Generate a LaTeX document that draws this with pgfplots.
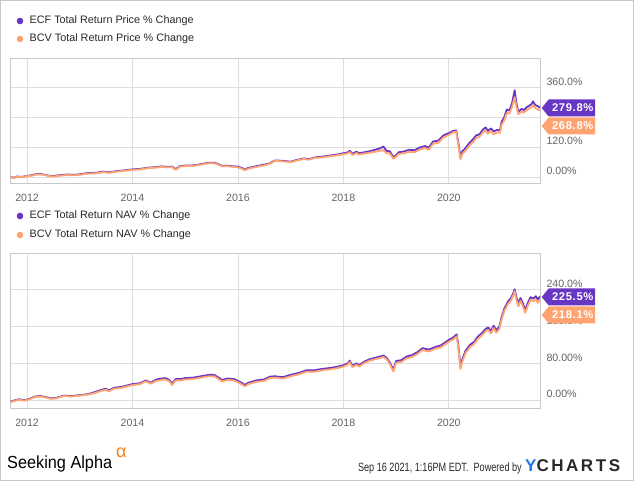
\documentclass[border=0pt]{standalone}
\usepackage{fontspec}
\setmainfont{Liberation Sans}
\newfontfamily\badgefont[LetterSpace=6]{Liberation Sans}
\newfontfamily\ychfont[LetterSpace=15]{Liberation Sans}
\usepackage{graphicx}
\usepackage{pgfplots}
\pgfplotsset{compat=1.18}

\definecolor{ecf}{RGB}{104,54,196}
\definecolor{bcv}{RGB}{255,163,112}
\definecolor{gridc}{RGB}{222,222,222}
\definecolor{framec}{RGB}{200,200,200}
\definecolor{ticktext}{RGB}{100,100,100}
\definecolor{legtext}{RGB}{40,40,40}
\definecolor{ychblue}{RGB}{30,120,230}
\definecolor{saorange}{RGB}{245,130,30}

% price, total return % change
\pgfplotstableread{
x y
2011.69 0
2011.75 -3
2011.80 2
2011.90 1
2012.00 4
2012.10 8
2012.20 13
2012.30 11
2012.40 6
2012.50 4
2012.60 7
2012.75 10
2012.90 9
2013.00 11
2013.15 16
2013.30 17
2013.45 22
2013.55 19
2013.70 24
2013.85 27
2014.00 31
2014.15 33
2014.30 38
2014.45 40
2014.55 43
2014.65 41
2014.75 42
2014.82 32
2014.90 44
2015.00 46
2015.15 47
2015.30 52
2015.45 58
2015.55 58
2015.62 53
2015.70 45
2015.78 46
2015.88 44
2016.00 42
2016.08 36
2016.13 30
2016.20 37
2016.35 44
2016.50 50
2016.60 55
2016.70 67
2016.80 66
2016.92 64
2017.00 62
2017.10 68
2017.25 75
2017.35 72
2017.45 79
2017.60 82
2017.75 87
2017.90 91
2018.00 96
2018.08 99
2018.12 106
2018.17 94
2018.25 102
2018.30 96
2018.40 100
2018.50 104
2018.60 110
2018.70 116
2018.76 123
2018.82 105
2018.88 104
2018.95 80
2019.00 88
2019.05 100
2019.15 103
2019.25 110
2019.35 108
2019.45 119
2019.55 125
2019.62 118
2019.70 143
2019.80 147
2019.90 168
2020.00 177
2020.08 186
2020.14 188
2020.18 140
2020.22 82
2020.26 105
2020.30 112
2020.38 135
2020.45 150
2020.52 168
2020.58 172
2020.65 192
2020.70 200
2020.74 186
2020.80 196
2020.85 184
2020.92 190
2020.97 188
2021.00 222
2021.05 240
2021.10 272
2021.15 268
2021.20 298
2021.25 350
2021.28 300
2021.32 262
2021.38 275
2021.42 270
2021.48 282
2021.52 287
2021.57 294
2021.60 305
2021.64 290
2021.68 287
2021.73 279.8
}\ecfprice

\pgfplotstableread{
x y
2011.69 0
2011.75 -4
2011.80 1
2011.90 0
2012.00 3
2012.10 6
2012.20 11
2012.30 10
2012.40 5
2012.50 2
2012.60 5
2012.75 8
2012.90 7
2013.00 9
2013.15 14
2013.30 15
2013.45 20
2013.55 17
2013.70 22
2013.85 25
2014.00 29
2014.15 31
2014.30 36
2014.45 38
2014.55 41
2014.65 39
2014.75 40
2014.82 29
2014.90 42
2015.00 44
2015.15 45
2015.30 50
2015.45 56
2015.55 56
2015.62 51
2015.70 43
2015.78 44
2015.88 42
2016.00 39
2016.08 33
2016.13 27
2016.20 34
2016.35 41
2016.50 47
2016.60 53
2016.70 65
2016.80 64
2016.92 62
2017.00 60
2017.10 66
2017.25 73
2017.35 70
2017.45 77
2017.60 79
2017.75 84
2017.90 88
2018.00 92
2018.08 95
2018.12 101
2018.17 89
2018.25 97
2018.30 91
2018.40 95
2018.50 98
2018.60 102
2018.70 106
2018.76 108
2018.82 96
2018.88 95
2018.95 74
2019.00 82
2019.05 93
2019.15 96
2019.25 102
2019.35 100
2019.45 111
2019.55 117
2019.62 110
2019.70 134
2019.80 138
2019.90 160
2020.00 170
2020.08 180
2020.14 183
2020.18 130
2020.22 72
2020.26 95
2020.30 102
2020.38 124
2020.45 139
2020.52 157
2020.58 162
2020.65 181
2020.70 188
2020.74 175
2020.80 184
2020.85 173
2020.92 180
2020.97 178
2021.00 210
2021.05 228
2021.10 258
2021.15 256
2021.20 284
2021.25 322
2021.28 286
2021.32 254
2021.38 264
2021.42 260
2021.48 270
2021.52 276
2021.57 282
2021.60 290
2021.64 278
2021.68 274
2021.73 268.8
}\bcvprice

% NAV, total return % change
\pgfplotstableread{
x y
2011.69 -3
2011.75 -1
2011.85 2
2011.95 0
2012.05 3
2012.15 8
2012.25 9
2012.35 7
2012.45 4
2012.55 5
2012.70 10
2012.85 9
2013.00 11
2013.15 13
2013.30 18
2013.40 22
2013.50 25
2013.55 21
2013.65 27
2013.80 29
2014.00 35
2014.15 37
2014.25 43
2014.35 38
2014.45 45
2014.55 47
2014.62 48
2014.70 44
2014.75 36
2014.82 46
2014.92 46
2015.00 48
2015.15 49
2015.30 52
2015.45 55
2015.55 55
2015.62 50
2015.70 44
2015.80 47
2015.92 46
2016.00 42
2016.08 37
2016.13 33
2016.20 38
2016.35 43
2016.50 45
2016.60 51
2016.70 52
2016.85 50
2017.00 55
2017.15 59
2017.30 65
2017.45 65
2017.60 68
2017.75 70
2017.90 73
2018.00 76
2018.08 80
2018.12 86
2018.17 75
2018.25 80
2018.30 76
2018.40 84
2018.50 89
2018.60 92
2018.70 95
2018.76 97
2018.82 92
2018.88 82
2018.95 66
2019.00 85
2019.10 87
2019.20 95
2019.30 98
2019.40 104
2019.50 113
2019.62 110
2019.75 116
2019.85 119
2020.00 131
2020.08 136
2020.15 143
2020.18 120
2020.22 73
2020.26 90
2020.32 108
2020.40 120
2020.48 127
2020.55 138
2020.62 145
2020.70 155
2020.75 158
2020.80 150
2020.85 162
2020.90 152
2020.96 160
2021.00 180
2021.05 198
2021.12 214
2021.18 222
2021.22 232
2021.25 241
2021.28 225
2021.32 210
2021.36 222
2021.40 212
2021.45 196
2021.50 212
2021.55 224
2021.60 221
2021.65 226
2021.69 219
2021.73 225.5
}\ecfnav

\pgfplotstableread{
x y
2011.69 -4
2011.75 -2
2011.85 1
2011.95 -1
2012.05 2
2012.15 7
2012.25 8
2012.35 6
2012.45 3
2012.55 4
2012.70 9
2012.85 8
2013.00 10
2013.15 12
2013.30 16
2013.40 20
2013.50 23
2013.55 19
2013.65 25
2013.80 27
2014.00 33
2014.15 35
2014.25 41
2014.35 36
2014.45 42
2014.55 44
2014.62 45
2014.70 41
2014.75 33
2014.82 43
2014.92 43
2015.00 45
2015.15 46
2015.30 49
2015.45 52
2015.55 52
2015.62 47
2015.70 41
2015.80 44
2015.92 43
2016.00 39
2016.08 34
2016.13 30
2016.20 35
2016.35 40
2016.50 42
2016.60 48
2016.70 49
2016.85 47
2017.00 52
2017.15 56
2017.30 62
2017.45 62
2017.60 65
2017.75 67
2017.90 70
2018.00 73
2018.08 77
2018.12 83
2018.17 72
2018.25 77
2018.30 73
2018.40 81
2018.50 86
2018.60 89
2018.70 92
2018.76 94
2018.82 89
2018.88 79
2018.95 62
2019.00 81
2019.10 83
2019.20 91
2019.30 94
2019.40 100
2019.50 109
2019.62 106
2019.75 112
2019.85 115
2020.00 127
2020.08 132
2020.15 139
2020.18 115
2020.22 68
2020.26 85
2020.32 103
2020.40 115
2020.48 122
2020.55 133
2020.62 140
2020.70 150
2020.75 153
2020.80 145
2020.85 157
2020.90 147
2020.96 155
2021.00 175
2021.05 193
2021.12 209
2021.18 217
2021.22 227
2021.25 237
2021.28 219
2021.32 204
2021.36 216
2021.40 206
2021.45 190
2021.50 206
2021.55 218
2021.60 215
2021.65 219
2021.69 212
2021.73 218.1
}\bcvnav

\pgfplotsset{
  ychart/.style={
    scale only axis,
    width=529.3pt,
    xmin=2011.69, xmax=2021.73,
    xtick={2012,2014,2016,2018,2020},
    xticklabels={2012,2014,2016,2018,2020},
    xmajorgrids, ymajorgrids,
    major grid style={gridc, line width=0.8pt},
    axis line style={framec, line width=0.8pt},
    major tick style={draw=none},
    yticklabel pos=right,
    tick label style={font=\fontsize{10.6}{12}\selectfont, text=ticktext},
    xticklabel style={yshift=-8pt},
    yticklabel style={anchor=west, xshift=3pt, yshift=6pt},
    line join=round,
  },
}

\newcommand{\badge}[4]{%
  \fill[#3] (#1pt,#2pt) -- ++(7pt,8.5pt) -- ++(46.5pt,0pt) -- ++(0pt,-17pt) -- ++(-46.5pt,0pt) -- cycle;
  \node[text=white, inner sep=0pt, font=\badgefont\bfseries\fontsize{11.2}{12}\selectfont] at (#1pt+31pt,#2pt) {#4};
}

\begin{document}
\begin{tikzpicture}
\path[use as bounding box, fill=white] (0,0) rectangle (635pt,481pt);
\draw[framec, line width=0.8pt] (0.5pt,0.5pt) rectangle (633pt,480.5pt);

% legends
\begin{scope}[every node/.style={anchor=west, inner sep=0pt, text=legtext, font=\fontsize{10.8}{12}\selectfont}]
\fill[ecf] (20pt,460pt) circle (3.3pt);
\node at (29.5pt,460pt) {ECF Total Return Price \% Change};
\fill[bcv] (20pt,442pt) circle (3.3pt);
\node at (29.5pt,442pt) {BCV Total Return Price \% Change};
\fill[ecf] (20pt,265pt) circle (3.3pt);
\node at (29.5pt,265pt) {ECF Total Return NAV \% Change};
\fill[bcv] (20pt,246pt) circle (3.3pt);
\node at (29.5pt,246pt) {BCV Total Return NAV \% Change};
\end{scope}

\begin{axis}[ychart,
  at={(10.7pt,298pt)}, anchor=south west,
  height=125pt,
  ymin=-24, ymax=480,
  ytick={0,120,240,360},
  yticklabels={0.00\%,120.0\%,240.0\%,360.0\%},
]
\addplot[ecf, line width=1.8pt] table[x=x,y=y] {\ecfprice};
\addplot[bcv, line width=1.8pt] table[x=x,y=y] {\bcvprice};
\end{axis}

\begin{axis}[ychart,
  at={(10.7pt,73pt)}, anchor=south west,
  height=155pt,
  ymin=-17, ymax=320,
  ytick={0,80,160,240},
  yticklabels={0.00\%,80.00\%,160.0\%,240.0\%},
]
\addplot[ecf, line width=1.8pt] table[x=x,y=y] {\ecfnav};
\addplot[bcv, line width=1.8pt] table[x=x,y=y] {\bcvnav};
\end{axis}

% value badges
\badge{541.7}{373}{ecf}{279.8\%}
\badge{541.7}{355}{bcv}{268.8\%}
\badge{541.7}{184}{ecf}{225.5\%}
\badge{541.7}{166}{bcv}{218.1\%}

% footer
\node[anchor=base west, inner sep=0pt, font=\fontsize{17.5}{18}\selectfont, text=black] at (7pt,12pt) {\scalebox{0.93}[1]{Seeking Alpha}};
\node[anchor=base west, inner sep=0pt, font=\fontsize{18}{19}\selectfont, text=saorange] at (116pt,23pt) {α};
\node[anchor=base east, inner sep=0pt, font=\fontsize{12}{13}\selectfont, text=legtext] at (522pt,9pt) {\scalebox{0.76}[1]{Sep 16 2021, 1:16PM EDT.\ \ Powered by}};
\node[anchor=base west, inner sep=0pt, font=\ychfont\bfseries\fontsize{17}{18}\selectfont, text=legtext] at (525pt,9pt) {\textcolor{ychblue}{Y}CHARTS};
\end{tikzpicture}
\end{document}
